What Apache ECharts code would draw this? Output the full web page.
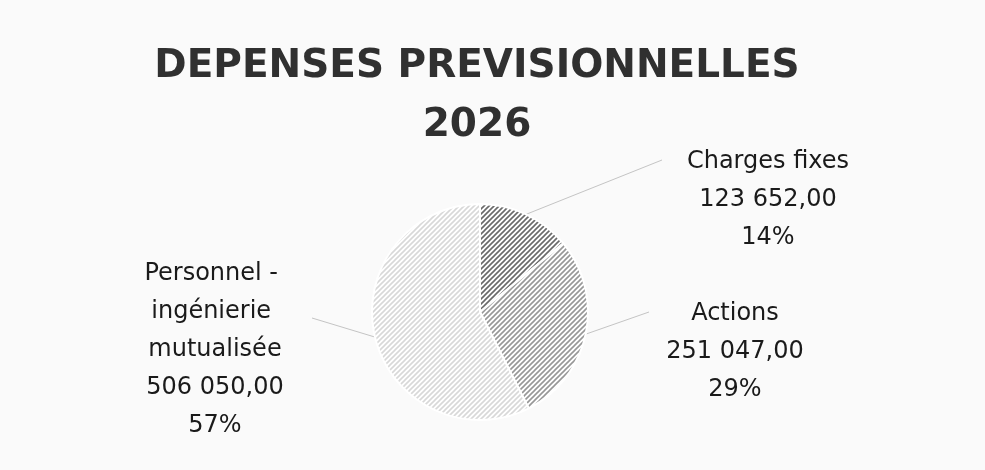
<!DOCTYPE html>
<html>
<head>
<meta charset="utf-8">
<script src="https://cdn.jsdelivr.net/npm/echarts@6/dist/echarts.min.js"></script>
<style>
  html, body { margin: 0; padding: 0; background: #fafafa; }
  #main { width: 985px; height: 470px; }
</style>
</head>
<body>
<div id="main"></div>
<script>
// données du graphique
var categories = ['Charges fixes', 'Actions', 'Personnel - ingénierie mutualisée']
var amounts = [123652.00, 251047.00, 506050.00]
var titleText = 'DEPENSES PREVISIONNELLES\n2026'

// hachures diagonales façon Excel
var hatchColors = ['#6a6a6a', '#979797', '#d8d8d8']
// centre des étiquettes et bout des traits de rappel (décalage / étiquette)
var labelSpots = [[768, 200], [735, 352], [215, 350]]
var lineEnds = [[-106, -40], [-86, -40], [97, -32]]

function hatch (color) {
  var c = document.createElement('canvas')
  c.width = 5
  c.height = 5
  var ctx = c.getContext('2d')
  ctx.fillStyle = '#ffffff'
  ctx.fillRect(0, 0, 5, 5)
  ctx.strokeStyle = color
  ctx.lineWidth = 1.6
  ctx.beginPath()
  ctx.moveTo(-1, 6); ctx.lineTo(6, -1)
  ctx.moveTo(-1, 1); ctx.lineTo(1, -1)
  ctx.moveTo(4, 6); ctx.lineTo(6, 4)
  ctx.stroke()
  return c
}

function fmt (v) {
  var p = v.toFixed(2).split('.')
  return p[0].replace(/\B(?=(\d{3})+(?!\d))/g, ' ') + ',' + p[1]
}

var chart = echarts.init(document.getElementById('main'))

var option = {
  backgroundColor: '#fafafa',
  animation: false,
  title: {
    text: titleText,
    left: 477,
    top: 37,
    padding: 0,
    textAlign: 'center',
    textStyle: {
      fontFamily: 'DejaVu Sans',
      fontSize: 39,
      fontWeight: 'bold',
      lineHeight: 59,
      color: '#303030'
    }
  },
  series: [
    {
      type: 'pie',
      center: [480, 312],
      radius: 108,
      startAngle: 90,
      clockwise: true,
      percentPrecision: 0,
      silent: true,
      itemStyle: {
        borderColor: '#ffffff',
        borderWidth: 2
      },
      label: {
        show: true,
        position: 'outside',
        formatter: function (p) {
          return p.name + '\n' + fmt(p.value) + '\n' + p.percent + '%'
        },
        fontFamily: 'DejaVu Sans',
        fontSize: 24,
        lineHeight: 38,
        color: '#1a1a1a',
        width: 175,
        overflow: 'break',
        align: 'center'
      },
      labelLine: {
        show: true,
        length: 20,
        length2: 0,
        lineStyle: { color: '#c4c4c4', width: 1 }
      },
      labelLayout: function (p) {
        var s = labelSpots[p.dataIndex]
        var e = lineEnds[p.dataIndex]
        var out = { x: s[0], y: s[1], align: 'center', verticalAlign: 'middle' }
        if (p.labelLinePoints && p.labelLinePoints.length) {
          out.labelLinePoints = [p.labelLinePoints[0], [s[0] + e[0], s[1] + e[1]]]
        }
        return out
      },
      data: categories.map(function (n, i) {
        return {
          name: n,
          value: amounts[i],
          itemStyle: { color: { image: hatch(hatchColors[i]), repeat: 'repeat' } }
        }
      })
    }
  ]
}

chart.setOption(option)
</script>
</body>
</html>
